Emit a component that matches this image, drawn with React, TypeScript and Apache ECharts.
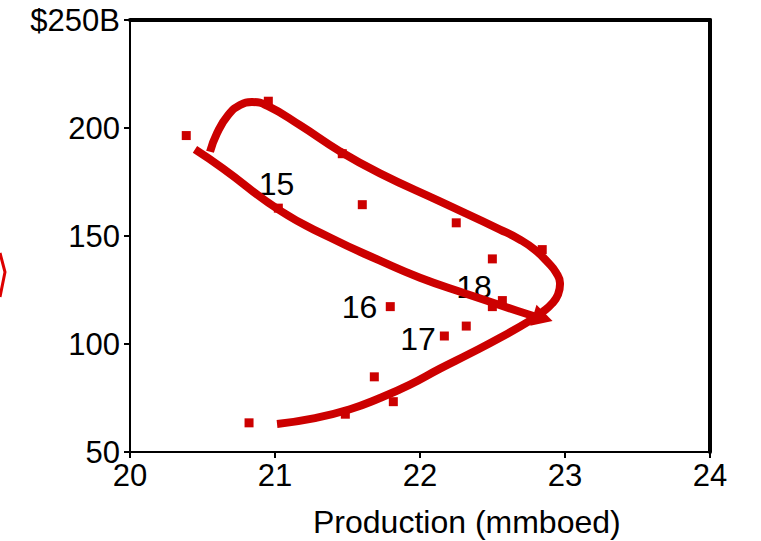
import React, { useEffect, useRef } from 'react';
import * as echarts from 'echarts';

// Scatter observations (production mmboed, value $B)
const pointX = [20.388, 20.954, 21.464, 21.023, 21.602, 22.25, 22.843, 22.499, 22.568, 22.499, 21.795, 22.319, 22.168, 21.685, 21.816, 21.485, 20.821];
const pointY = [196.5, 212.4, 188.1, 162.9, 164.5, 156.1, 143.7, 139.4, 120.1, 117.3, 117.3, 108.3, 103.7, 84.8, 73.3, 67.5, 63.5];

// Year annotations
const yearLabels = ['15', '16', '17', '18'];
const yearX = [21.01, 21.583, 21.986, 22.372];
const yearY = [173.9, 117.05, 102.4, 126.6];

// Hand-drawn loop curve (data coordinates)
const loopX = [20.552, 20.6, 20.676, 20.759, 20.841, 20.952, 21.172, 21.448, 21.724, 22.138, 22.552, 22.69, 22.793, 22.883, 22.938, 22.966, 22.952, 22.91, 22.848, 22.759, 22.552, 22.345, 22.138, 21.931, 21.724, 21.517, 21.276, 21.014];
const loopY = [189.0, 197.6, 205.9, 210.6, 212.0, 210.1, 201.3, 189.2, 179.0, 166.0, 153.0, 148.3, 143.6, 137.7, 133.1, 128.0, 122.9, 118.7, 115.0, 110.8, 102.9, 95.6, 88.6, 81.2, 75.0, 69.8, 65.7, 63.0];

// Arrow stroke (data coordinates)
const arrowX = [20.448, 20.641, 21.034, 21.379, 21.724, 22.0, 22.317, 22.669, 22.8];
const arrowY = [190.1, 181.3, 161.8, 149.3, 138.6, 130.7, 123.3, 115.4, 112.6];
const arrowHead = [22.848, 112.0];

const xTicks = [20, 24, 1];
const yTicks = [50, 250, 50];

const RED = '#cc0000';
const FONT = 'Liberation Sans, Arial, sans-serif';

export default function App() {
  const ref = useRef<HTMLDivElement>(null);
  useEffect(() => {
    if (!ref.current) return;
    const chart = echarts.init(ref.current, null, { renderer: 'svg' });
    chart.setOption({
      animation: false,
      backgroundColor: '#ffffff',
      grid: { left: 130, right: 51, top: 20, bottom: 89 },
      xAxis: [
        {
          type: 'value', min: xTicks[0], max: xTicks[1], interval: xTicks[2],
          axisLine: { lineStyle: { color: '#000', width: 2 } },
          axisTick: { length: 6, lineStyle: { color: '#000', width: 2 } },
          axisLabel: { color: '#000', fontSize: 31, fontFamily: FONT, margin: 8 },
          splitLine: { show: false },
        },
        {
          type: 'value', position: 'top', min: xTicks[0], max: xTicks[1], interval: xTicks[2],
          axisLine: { show: true, lineStyle: { color: '#000', width: 4 } },
          axisTick: { show: false }, axisLabel: { show: false }, splitLine: { show: false },
        },
      ],
      yAxis: [
        {
          type: 'value', min: yTicks[0], max: yTicks[1], interval: yTicks[2],
          axisLine: { show: true, lineStyle: { color: '#000', width: 2 } },
          axisTick: { show: true, length: 6, lineStyle: { color: '#000', width: 2 } },
          axisLabel: {
            color: '#000', fontSize: 31, fontFamily: FONT, margin: 10,
            formatter: (v: number) => (v === 250 ? '$250B' : String(v)),
          },
          splitLine: { show: false },
        },
        {
          type: 'value', position: 'right', min: yTicks[0], max: yTicks[1], interval: yTicks[2],
          axisLine: { show: true, lineStyle: { color: '#000', width: 4 } },
          axisTick: { show: false }, axisLabel: { show: false }, splitLine: { show: false },
        },
      ],
      graphic: [
        {
          type: 'text', left: 313, top: 506,
          style: { text: 'Production (mmboed)', fill: '#000', fontSize: 32, fontFamily: FONT },
        },
        {
          type: 'polyline', shape: { points: [[0, 253], [5, 272], [0, 297]] },
          style: { stroke: '#dd0000', lineWidth: 3, fill: 'none' },
        },
      ],
      series: [
        {
          type: 'scatter', z: 1,
          data: yearLabels.map((t, i) => ({ value: [yearX[i], yearY[i]], name: t })),
          symbolSize: 0,
          itemStyle: { opacity: 1 },
          label: {
            show: true, position: 'inside', formatter: (p: any) => p.name,
            color: '#000', fontSize: 32, fontFamily: FONT,
          },
        },
        {
          type: 'line', z: 3, smooth: 0.5, showSymbol: false, symbol: 'none',
          data: loopX.map((x, i) => [x, loopY[i]]),
          lineStyle: { color: RED, width: 8, cap: 'butt' },
        },
        {
          type: 'line', z: 3, smooth: 0.5, showSymbol: false, symbol: 'none',
          data: arrowX.map((x, i) => [x, arrowY[i]]),
          lineStyle: { color: RED, width: 8, cap: 'butt' },
        },
        {
          type: 'scatter', z: 4,
          data: [arrowHead],
          symbol: 'triangle', symbolSize: [22, 20], symbolRotate: -106.5,
          itemStyle: { color: RED, opacity: 1 },
        },
        {
          type: 'scatter', z: 2,
          data: pointX.map((x, i) => [x, pointY[i]]),
          symbol: 'rect', symbolSize: 9,
          itemStyle: { color: RED, opacity: 1 },
        },
      ],
    });
    return () => chart.dispose();
  }, []);
  return <div ref={ref} style={{ position: 'fixed', left: 0, top: 0, width: 761, height: 541 }} />;
}
